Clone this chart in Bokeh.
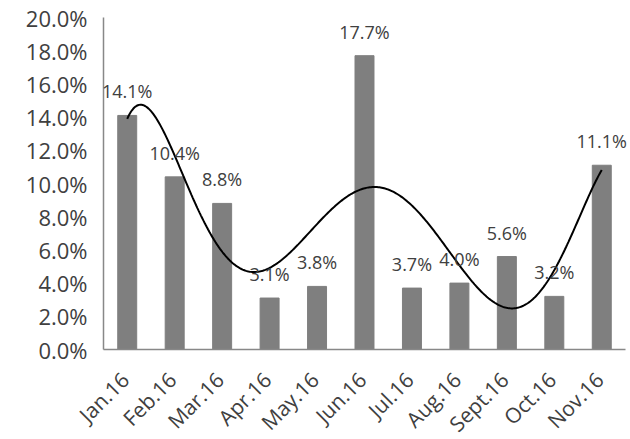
import numpy as np
from math import pi, cos
from bokeh.plotting import figure
from bokeh.models import Range1d, FixedTicker, PrintfTickFormatter, ColumnDataSource, LabelSet
from bokeh.core.properties import value
from bokeh.embed import file_html
from bokeh.resources import INLINE

months = ["Jan.16", "Feb.16", "Mar.16", "Apr.16", "May.16", "Jun.16",
          "Jul.16", "Aug.16", "Sept.16", "Oct.16", "Nov.16"]
rates = [14.1, 10.4, 8.8, 3.1, 3.8, 17.7, 3.7, 4.0, 5.6, 3.2, 11.1]
y_ticks = [0, 2, 4, 6, 8, 10, 12, 14, 16, 18, 20]
y_max = 20
trend_degree = 6

FONT = "Open Sans"
TEXT = "#404040"
AXIS = "#888888"
MONTH_FS = 21

# layout (pixels inside the figure)
W, H = 630, 439
PLOT_L, PLOT_R = 103, 625    # x extent of the category area
PLOT_T, PLOT_B = 17, 349     # y pixel of y_max and of 0
n = len(months)

ux = (PLOT_R - PLOT_L) / n
uy = (PLOT_B - PLOT_T) / y_max
x_range = Range1d(-PLOT_L / ux, n + (W - PLOT_R) / ux)
y_range = Range1d(-(H - PLOT_B) / uy, y_max + PLOT_T / uy)

# approximate advance widths (em) used to centre the rotated month labels
CHAR_W = {"J": 0.27, "a": 0.56, "n": 0.61, ".": 0.27, "1": 0.57, "6": 0.57,
          "F": 0.52, "e": 0.56, "b": 0.61, "M": 0.90, "r": 0.41, "A": 0.63,
          "p": 0.61, "y": 0.50, "u": 0.61, "l": 0.26, "g": 0.55, "S": 0.55,
          "t": 0.35, "O": 0.78, "c": 0.48, "N": 0.75, "o": 0.60, "v": 0.50}
c45 = cos(pi / 4)
cap_h = 0.714 * MONTH_FS
mx_off, my_off = [], []
for m in months:
    w = sum(CHAR_W.get(ch, 0.6) for ch in m) * MONTH_FS
    mx_off.append(-7.5 - c45 * w / 2 + c45 * cap_h / 2)
    my_off.append(-(21 + c45 * (w + cap_h) / 2))

x = np.arange(n) + 0.5
labels = [f"{v:.1f}%" for v in rates]
src = ColumnDataSource(dict(x=x, rate=rates, label=labels,
                            month=months, base=[0] * n,
                            mx_off=mx_off, my_off=my_off))

p = figure(width=W, height=H, output_backend="svg", toolbar_location=None,
           x_range=x_range, y_range=y_range,
           min_border_left=0, min_border_right=0, min_border_top=0,
           min_border_bottom=0)

p.vbar(x="x", top="rate", width=0.4, color="#7f7f7f", source=src)

idx = np.arange(1, n + 1)
coeffs = np.polyfit(idx, rates, trend_degree)
xs = np.linspace(1, n, 400)
p.line(xs - 0.5, np.polyval(coeffs, xs), color="black", line_width=2)

lbl = LabelSet(x="x", y="rate", text="label", source=src, y_offset=17,
               text_align="center", text_baseline="alphabetic",
               text_font=value(FONT), text_font_size="18px", text_color=TEXT)
p.add_layout(lbl)

mlbl = LabelSet(x="x", y="base", text="month", source=src,
                x_offset="mx_off", y_offset="my_off",
                angle=pi / 4, text_align="center", text_baseline="middle",
                text_font=value(FONT), text_font_size=f"{MONTH_FS}px",
                text_color=TEXT)
p.add_layout(mlbl)

p.xgrid.visible = False
p.ygrid.visible = False
p.outline_line_color = None

ya = p.yaxis[0]
ya.fixed_location = 0
ya.bounds = (0, y_max)
ya.ticker = FixedTicker(ticks=y_ticks)
ya.formatter = PrintfTickFormatter(format="%.1f%%")
ya.major_tick_line_color = None
ya.minor_tick_line_color = None
ya.axis_line_color = AXIS
ya.axis_line_width = 1.5
ya.major_label_text_font = FONT
ya.major_label_text_font_size = "22px"
ya.major_label_text_color = TEXT
ya.major_label_standoff = 10

xa = p.xaxis[0]
xa.fixed_location = 0
xa.bounds = (0, n)
xa.ticker = FixedTicker(ticks=[])
xa.major_tick_line_color = None
xa.minor_tick_line_color = None
xa.axis_line_color = AXIS
xa.axis_line_width = 1.5

open("out.html", "w").write(file_html(p, INLINE))
